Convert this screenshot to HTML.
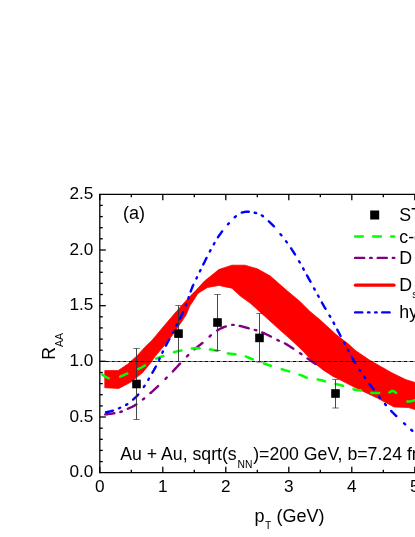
<!DOCTYPE html>
<html><head><meta charset="utf-8">
<style>
html,body{margin:0;padding:0;background:#fff;}
body{width:415px;height:537px;overflow:hidden;}
svg{display:block;}
text{font-family:"Liberation Sans",sans-serif;fill:#000;}
</style></head><body>
<svg width="415" height="537" viewBox="0 0 415 537">
<rect width="415" height="537" fill="#fff"/>
<path d="M104.8,370.6 L118.2,370.6 L127.5,364.3 L136.9,355.9 L144.9,347.2 L152.3,340.0 L163.8,326.2 L176.1,311.8 L187.7,298.8 L195.8,290.5 L204.5,281.1 L218.9,269.5 L231.9,265.2 L244.9,265.2 L257.3,268.8 L270.3,276.0 L286.2,290.0 L300.0,301.5 L310.0,311.5 L320.2,320.0 L336.1,334.5 L349.1,344.6 L355.0,350.2 L369.5,360.1 L391.1,372.4 L405.6,379.6 L415.0,382.5 L418.0,383.4 L418.0,410.5 L408.4,407.5 L394.0,406.9 L376.7,397.7 L355.0,387.5 L339.0,379.2 L333.2,376.4 L323.1,369.9 L313.0,361.9 L302.0,350.0 L291.9,340.6 L278.9,329.0 L264.5,316.0 L250.0,302.9 L240.6,296.2 L231.9,288.2 L218.9,285.4 L207.3,287.5 L197.9,293.4 L193.5,300.5 L190.0,305.5 L186.2,314.7 L177.6,327.7 L168.9,340.0 L155.0,356.6 L149.9,363.8 L142.7,372.5 L131.1,381.9 L118.8,388.4 L104.8,387.7 Z" fill="#ff0000" stroke="#ff0000" stroke-width="0.8" stroke-linejoin="round"/>
<path d="M105.2,414.4 L105.3,414.4 L105.6,414.4 L105.9,414.4 L106.3,414.3 L106.6,414.3 L107.0,414.2 L107.5,414.2 L107.9,414.1 L108.4,414.0 L108.8,414.0 L109.3,413.9 L109.8,413.9 L110.3,413.8 L110.7,413.7 L111.2,413.7 L111.7,413.6 L112.1,413.5 L112.6,413.5 L113.0,413.4 L113.4,413.4 L113.8,413.3 L114.2,413.3 L114.3,413.2 M120.3,412.0 L120.4,411.9 L120.6,411.9 L120.8,411.8 L121.0,411.8 L121.2,411.7 L121.3,411.7 L121.5,411.6 L121.7,411.5 L121.8,411.5 M127.8,408.8 L128.2,408.6 L128.7,408.4 L129.1,408.2 L129.6,408.0 L130.1,407.7 L130.6,407.5 L131.1,407.3 L131.6,407.0 L132.1,406.8 L132.5,406.6 L133.0,406.3 L133.5,406.1 L133.9,405.8 L134.4,405.6 L134.8,405.4 L135.2,405.1 L135.6,404.9 L136.0,404.7 L136.4,404.4 L136.4,404.4 M142.9,399.5 L143.1,399.3 L143.4,399.1 L143.7,398.9 L143.9,398.7 L144.2,398.5 L144.2,398.5 M150.4,393.1 L150.7,392.9 L151.1,392.6 L151.4,392.2 L151.8,391.9 L152.2,391.6 L152.5,391.3 L152.9,390.9 L153.3,390.6 L153.7,390.2 L154.0,389.9 L154.4,389.5 L154.8,389.2 L155.2,388.8 L155.6,388.5 L155.9,388.1 L156.3,387.8 L156.7,387.4 L157.1,387.1 L157.4,386.7 L157.8,386.4 L158.1,386.1 M165.5,378.8 L165.7,378.6 L166.0,378.3 L166.3,378.0 L166.6,377.7 L166.7,377.6 M172.9,371.4 L173.1,371.1 L173.5,370.7 L173.9,370.3 L174.3,369.8 L174.7,369.4 L175.2,368.9 L175.6,368.4 L176.1,367.9 L176.5,367.5 L177.0,367.0 L177.4,366.5 L177.8,366.0 L178.3,365.6 L178.7,365.1 L179.1,364.6 L179.5,364.2 L179.9,363.8 L180.0,363.7 M187.0,356.3 L187.2,356.1 L187.5,355.8 L187.8,355.5 L188.0,355.3 L188.3,355.0 L188.3,355.0 M194.5,349.3 L194.6,349.2 L195.0,348.9 L195.4,348.5 L195.8,348.2 L196.3,347.9 L196.7,347.5 L197.1,347.2 L197.6,346.8 L198.0,346.4 L198.5,346.1 L198.9,345.7 L199.4,345.3 L199.9,345.0 L200.3,344.6 L200.8,344.2 L201.3,343.8 L201.8,343.5 L202.2,343.1 L202.5,342.9 M209.6,336.5 L209.9,336.3 L210.3,335.9 L210.8,335.4 L210.9,335.3 M217.1,330.5 L217.2,330.4 L217.6,330.2 L218.1,329.9 L218.5,329.7 L218.9,329.5 L219.3,329.2 L219.7,329.0 L220.1,328.8 L220.5,328.6 L220.9,328.4 L221.3,328.3 L221.7,328.1 L222.1,327.9 L222.5,327.7 L222.9,327.6 L223.3,327.4 L223.6,327.2 L224.0,327.1 L224.4,326.9 L224.7,326.8 L225.0,326.7 L225.4,326.5 L225.7,326.4 L225.8,326.4 M232.2,324.9 L232.3,324.9 L232.6,324.9 L232.9,324.9 L233.2,324.9 L233.5,324.9 L233.7,324.9 L233.7,324.9 M239.7,325.9 L239.9,325.9 L240.1,326.0 L240.3,326.0 L240.6,326.1 L240.8,326.1 L241.0,326.2 L241.2,326.3 L241.5,326.3 L241.8,326.4 L242.0,326.5 L242.3,326.6 L242.6,326.6 L243.0,326.7 L243.3,326.8 L243.7,326.9 L244.1,327.1 L244.5,327.2 L245.0,327.3 L245.5,327.4 L246.0,327.6 L246.6,327.7 L247.1,327.9 L247.7,328.0 L248.4,328.2 L248.7,328.3 M254.8,329.9 L255.4,330.1 L256.1,330.3 L256.3,330.3 M262.3,332.5 L262.6,332.6 L263.3,332.9 L264.1,333.2 L264.8,333.6 L265.6,333.9 L266.3,334.3 L267.1,334.7 L267.9,335.1 L268.6,335.4 L269.4,335.8 L270.2,336.2 L270.9,336.6 L271.0,336.6 M277.4,340.0 L277.6,340.0 L278.1,340.3 L278.6,340.5 L278.9,340.7 M284.9,343.4 L285.2,343.5 L285.6,343.7 L286.0,344.0 L286.5,344.3 L287.0,344.6 L287.5,344.9 L288.0,345.2 L288.5,345.6 L289.1,345.9 L289.6,346.3 L290.2,346.6 L290.8,347.0 L291.4,347.4 L292.0,347.8 L292.6,348.2 L293.2,348.6 L293.3,348.7 M300.0,353.2 L300.6,353.6 L301.2,354.0 L301.4,354.2 M307.5,358.5 L307.9,358.7 L308.5,359.1 L309.1,359.5 L309.6,359.9 L310.2,360.3 L310.8,360.7 L311.3,361.1 L311.8,361.5 L312.4,361.8 L312.9,362.2 L313.3,362.5 L313.8,362.8 L314.2,363.1 L314.7,363.4 L315.1,363.7 L315.5,363.9 L315.8,364.1 " fill="none" stroke="#800080" stroke-width="2.4" stroke-linecap="round"/>
<path d="M102.2,374.5 L102.5,374.7 L102.8,374.9 L103.2,375.2 L103.5,375.4 L103.9,375.7 L104.3,375.9 L104.7,376.2 L105.1,376.5 L105.5,376.7 L105.9,377.0 L106.3,377.2 L106.7,377.4 L107.1,377.6 L107.5,377.8 L107.9,378.0 L108.3,378.2 L108.7,378.3 L108.8,378.3 M120.2,376.6 L120.2,376.6 L120.6,376.5 L121.0,376.3 L121.4,376.2 L121.7,376.0 L122.1,375.8 L122.5,375.7 L122.9,375.5 L123.3,375.3 L123.7,375.1 L124.1,374.9 L124.5,374.7 L124.9,374.6 L125.3,374.4 L125.7,374.2 L126.1,374.0 L126.5,373.8 L126.9,373.6 L127.2,373.5 M138.1,369.0 L138.2,369.0 L138.7,368.8 L139.1,368.6 L139.6,368.4 L140.0,368.2 L140.4,368.0 L140.8,367.8 L141.2,367.6 L141.5,367.5 L141.8,367.3 L142.1,367.2 L142.3,367.0 L142.6,366.9 L142.8,366.7 L143.0,366.6 L143.3,366.5 L143.5,366.3 L143.6,366.2 L143.8,366.1 L144.0,366.0 L144.2,365.8 L144.4,365.7 L144.6,365.6 L144.8,365.4 L144.9,365.4 M156.1,358.6 L156.3,358.5 L156.7,358.3 L157.0,358.1 L157.4,358.0 L157.7,357.9 L158.1,357.7 L158.4,357.6 L158.8,357.5 L159.1,357.4 L159.5,357.2 L159.8,357.1 L160.2,357.0 L160.5,356.9 L160.9,356.8 L161.2,356.7 L161.6,356.6 L161.9,356.4 L162.3,356.3 L162.6,356.2 L163.0,356.1 L163.3,356.0 M174.0,352.2 L174.3,352.1 L174.7,352.0 L175.1,351.9 L175.4,351.8 L175.7,351.7 L176.1,351.6 L176.4,351.5 L176.7,351.5 L177.1,351.4 L177.4,351.3 L177.8,351.2 L178.1,351.1 L178.4,351.1 L178.8,351.0 L179.1,350.9 L179.5,350.8 L179.9,350.8 L180.2,350.7 L180.6,350.6 L181.0,350.5 L181.4,350.5 L181.5,350.5 M191.9,348.5 L192.2,348.4 L192.7,348.4 L193.3,348.3 L193.9,348.3 L194.4,348.2 L195.0,348.2 L195.6,348.2 L196.2,348.2 L196.7,348.2 L197.3,348.2 L198.0,348.2 L198.6,348.2 L199.2,348.3 L199.6,348.3 M209.9,349.4 L210.3,349.4 L210.7,349.5 L211.2,349.6 L211.7,349.6 L212.1,349.7 L212.5,349.8 L212.9,349.9 L213.4,349.9 L213.8,350.0 L214.2,350.1 L214.6,350.2 L215.0,350.3 L215.3,350.4 L215.7,350.4 L216.1,350.5 L216.5,350.6 L216.8,350.7 L217.2,350.8 L217.5,350.8 M227.8,353.4 L228.2,353.5 L228.6,353.5 L229.0,353.6 L229.4,353.6 L229.8,353.7 L230.2,353.7 L230.6,353.8 L231.1,353.8 L231.5,353.9 L231.9,353.9 L232.3,354.0 L232.7,354.0 L233.1,354.1 L233.6,354.1 L234.0,354.2 L234.4,354.2 L234.8,354.3 L235.2,354.3 L235.5,354.4 M245.8,356.5 L245.9,356.5 L246.2,356.6 L246.5,356.8 L246.8,356.9 L247.1,357.0 L247.5,357.1 L247.8,357.3 L248.1,357.4 L248.4,357.5 L248.7,357.6 L249.0,357.8 L249.3,357.9 L249.7,358.1 L250.0,358.2 L250.3,358.3 L250.6,358.5 L251.0,358.6 L251.3,358.7 L251.7,358.9 L252.0,359.0 L252.4,359.1 L252.7,359.3 L252.9,359.4 M263.8,363.3 L263.9,363.4 L264.2,363.5 L264.5,363.6 L264.9,363.7 L265.2,363.9 L265.6,364.0 L265.9,364.1 L266.3,364.3 L266.8,364.4 L267.2,364.6 L267.7,364.7 L268.2,364.9 L268.8,365.1 L269.4,365.3 L270.1,365.5 L270.8,365.7 L271.0,365.8 M281.7,369.2 L281.9,369.2 L283.2,369.6 L284.6,370.1 L286.0,370.5 L287.4,370.9 L288.8,371.3 L289.1,371.4 M299.6,374.8 L300.0,374.9 L300.7,375.1 L301.3,375.4 L301.9,375.6 L302.4,375.7 L302.8,375.9 L303.2,376.1 L303.5,376.2 L303.8,376.3 L304.1,376.5 L304.3,376.6 L304.5,376.7 L304.6,376.8 L304.8,376.9 L305.0,377.0 L305.1,377.0 L305.3,377.1 L305.4,377.2 L305.6,377.3 L305.8,377.4 L306.0,377.4 L306.2,377.5 L306.5,377.6 L306.8,377.7 M317.6,379.5 L317.9,379.5 L318.4,379.6 L318.8,379.7 L319.2,379.8 L319.6,379.9 L319.9,379.9 L320.3,380.0 L320.6,380.1 L320.9,380.2 L321.3,380.3 L321.6,380.3 L321.8,380.4 L322.1,380.5 L322.4,380.6 L322.7,380.6 L323.0,380.7 L323.3,380.8 L323.6,380.9 L323.9,381.0 L324.2,381.1 L324.6,381.2 L324.9,381.3 L325.1,381.3 M335.5,383.9 L335.9,383.9 L336.5,384.1 L337.2,384.3 L337.8,384.4 L338.4,384.6 L339.1,384.7 L339.7,384.9 L340.3,385.1 L340.9,385.2 L341.5,385.4 L342.1,385.6 L342.7,385.7 L343.0,385.8 M353.5,389.3 L353.7,389.3 L354.1,389.5 L354.6,389.6 L355.0,389.7 L355.4,389.8 L355.8,389.9 L356.1,390.0 L356.5,390.0 L356.8,390.1 L357.1,390.1 L357.3,390.1 L357.6,390.2 L357.9,390.2 L358.1,390.2 L358.3,390.2 L358.6,390.2 L358.8,390.2 L359.0,390.2 L359.2,390.3 L359.4,390.3 L359.7,390.3 L359.9,390.3 L360.1,390.3 L360.4,390.3 L360.6,390.4 L360.9,390.4 L361.1,390.4 M371.4,392.8 L371.7,392.9 L372.1,392.9 L372.5,392.9 L372.9,392.9 L373.3,392.9 L373.7,392.9 L374.1,392.9 L374.5,392.9 L374.9,392.9 L375.3,392.9 L375.7,392.9 L376.1,392.9 L376.5,392.9 L376.9,392.9 L377.3,392.9 L377.7,392.9 L378.1,392.9 L378.5,392.9 L378.8,392.9 L379.1,392.9 M389.4,392.5 L389.6,392.4 L389.8,392.3 L390.0,392.2 L390.1,392.1 L390.3,391.9 L390.5,391.8 L390.6,391.7 L390.8,391.6 L390.9,391.5 L391.1,391.4 L391.2,391.3 L391.4,391.2 L391.6,391.1 L391.7,391.0 L391.9,391.0 L392.1,390.9 L392.2,390.9 L392.4,390.9 L392.6,390.9 L392.8,390.9 L393.0,391.0 L393.2,391.0 L393.4,391.1 L393.5,391.2 L393.7,391.2 L393.9,391.3 L394.1,391.4 L394.3,391.5 L394.5,391.7 L394.6,391.8 L394.8,391.9 L395.0,392.1 L395.2,392.2 L395.4,392.4 L395.6,392.5 L395.9,392.7 L396.1,392.9 M407.3,401.6 L407.4,401.6 L407.8,401.6 L408.2,401.6 L408.6,401.6 L409.0,401.6 L409.4,401.5 L409.8,401.5 L410.2,401.4 L410.6,401.4 L411.0,401.3 L411.4,401.2 L411.8,401.1 L412.2,401.0 L412.5,400.9 L412.9,400.8 L413.2,400.7 L413.6,400.6 L413.9,400.5 L414.2,400.4 L414.5,400.4 L414.7,400.3 L414.9,400.3 " fill="none" stroke="#00ff00" stroke-width="2.5" stroke-linecap="round"/>
<path d="M106.0,412.3 L106.2,412.3 L106.5,412.2 L106.9,412.1 L107.3,412.0 L107.7,411.9 L108.2,411.8 L108.6,411.7 L109.1,411.6 L109.5,411.5 L110.0,411.4 L110.4,411.3 L110.9,411.2 L111.4,411.0 L111.9,410.9 L112.3,410.8 L112.8,410.6 L113.0,410.6 M119.0,408.3 L119.2,408.2 L119.6,408.0 L120.0,407.8 L120.2,407.7 M126.1,404.9 L126.2,404.8 L126.4,404.8 L126.6,404.7 L126.7,404.6 L126.9,404.5 L127.0,404.4 L127.2,404.3 L127.3,404.2 M133.1,399.6 L133.5,399.3 L133.8,399.0 L134.2,398.6 L134.6,398.3 L135.0,397.9 L135.4,397.5 L135.8,397.2 L136.2,396.8 L136.5,396.4 L136.9,396.1 L137.3,395.7 L137.6,395.3 L137.9,394.9 L138.2,394.6 M143.8,386.9 L144.0,386.6 L144.3,386.2 L144.6,385.8 L144.6,385.8 M148.3,379.8 L148.4,379.5 L148.7,379.1 L148.9,378.6 L149.0,378.6 M152.4,372.8 L152.6,372.4 L152.9,371.8 L153.3,371.1 L153.6,370.5 L154.0,369.9 L154.3,369.3 L154.7,368.7 L155.0,368.1 L155.3,367.5 L155.6,367.0 L155.9,366.5 M159.0,359.8 L159.2,359.5 L159.4,358.9 L159.6,358.5 M162.3,352.7 L162.4,352.5 L162.6,352.0 L162.9,351.6 L162.9,351.4 M165.9,345.7 L166.0,345.4 L166.3,344.9 L166.5,344.5 L166.8,344.0 L167.0,343.5 L167.3,343.0 L167.6,342.5 L167.8,342.0 L168.1,341.5 L168.4,341.0 L168.7,340.5 L168.9,339.9 L169.2,339.4 L169.3,339.3 M172.8,332.7 L173.1,332.1 L173.5,331.5 L173.5,331.5 M176.5,325.6 L176.7,325.1 L177.1,324.3 L177.1,324.3 M180.0,318.6 L180.4,317.8 L180.9,316.9 L181.3,316.1 L181.7,315.2 L182.1,314.3 L182.5,313.5 L182.9,312.6 L183.1,312.1 M185.7,305.6 L185.8,305.4 L186.2,304.4 L186.2,304.3 M188.3,298.5 L188.3,298.5 L188.6,297.5 L188.7,297.1 M190.7,291.5 L190.9,291.1 L191.1,290.2 L191.4,289.5 L191.7,288.7 L192.0,288.0 L192.3,287.3 L192.5,286.7 L192.8,286.1 L193.0,285.6 L193.2,285.1 L193.3,284.8 M196.4,278.5 L196.6,278.1 L196.9,277.6 L197.0,277.3 M199.9,271.4 L200.1,270.9 L200.4,270.3 L200.5,270.1 M203.3,264.4 L203.3,264.4 L203.6,263.8 L203.9,263.2 L204.2,262.6 L204.5,262.1 L204.8,261.5 L205.0,260.9 L205.3,260.4 L205.6,259.8 L205.9,259.2 L206.2,258.7 L206.4,258.1 L206.5,257.9 M209.9,251.4 L209.9,251.4 L210.2,250.8 L210.5,250.3 L210.5,250.2 M213.8,244.3 L213.9,244.0 L214.2,243.5 L214.5,243.0 M218.0,237.3 L218.2,236.8 L218.6,236.3 L219.0,235.8 L219.3,235.2 L219.7,234.7 L220.1,234.2 L220.4,233.7 L220.8,233.2 L221.2,232.6 L221.6,232.1 L222.0,231.6 L222.1,231.4 M228.0,224.3 L228.0,224.3 L228.4,223.8 L228.8,223.4 L228.9,223.3 M234.7,217.2 L234.8,217.2 L235.2,216.8 L235.6,216.4 L235.8,216.3 M241.7,212.6 L241.8,212.6 L242.1,212.5 L242.4,212.4 L242.8,212.3 L243.1,212.2 L243.4,212.2 L243.7,212.1 L244.0,212.1 L244.4,212.0 L244.7,212.0 L245.0,211.9 L245.3,211.9 L245.7,211.8 L246.0,211.8 L246.3,211.8 L246.7,211.7 L247.0,211.7 L247.3,211.7 L247.7,211.7 L248.0,211.7 L248.3,211.7 L248.7,211.7 L248.8,211.7 M254.7,212.8 L255.0,212.8 L255.3,212.9 L255.6,213.0 L256.0,213.0 L256.1,213.1 M261.8,215.4 L262.0,215.5 L262.4,215.7 L262.7,216.0 L263.0,216.2 M268.8,221.3 L268.8,221.3 L269.2,221.7 L269.7,222.1 L270.1,222.5 L270.4,222.9 L270.8,223.2 L271.2,223.6 L271.6,224.0 L272.0,224.4 L272.3,224.7 L272.7,225.1 L273.0,225.4 L273.3,225.7 L273.6,226.0 L273.9,226.3 L273.9,226.3 M280.5,234.2 L281.0,234.8 L281.4,235.3 M286.1,241.3 L286.3,241.6 L286.9,242.4 M291.1,248.3 L291.2,248.4 L291.9,249.6 L292.7,250.8 L293.5,252.0 L294.3,253.3 L295.0,254.4 M299.1,261.3 L299.8,262.5 M303.1,268.4 L303.2,268.4 L303.8,269.7 M307.0,275.4 L307.8,276.9 L309.0,279.1 L310.2,281.2 L310.5,281.7 M314.1,288.4 L314.7,289.6 M318.0,295.5 L318.7,296.8 M321.9,302.5 L322.1,303.0 L322.8,304.2 L323.5,305.4 L324.1,306.5 L324.7,307.5 L325.3,308.4 L325.5,308.8 M329.5,315.5 L329.6,315.6 L329.9,316.2 L330.2,316.7 M333.6,322.6 L333.7,322.8 L334.0,323.5 L334.2,323.9 M337.3,329.6 L337.4,330.0 L337.7,330.6 L338.1,331.2 L338.4,331.8 L338.7,332.4 L339.0,333.0 L339.3,333.6 L339.6,334.2 L339.9,334.7 L340.2,335.3 L340.5,335.9 L340.6,336.0 M344.0,342.6 L344.0,342.6 L344.3,343.1 L344.5,343.6 L344.7,343.8 M347.8,349.7 L347.9,349.9 L348.2,350.5 L348.5,351.0 M351.6,356.7 L351.8,357.2 L352.1,357.8 L352.5,358.4 L352.8,359.0 L353.2,359.6 L353.5,360.2 L353.9,360.8 L354.2,361.4 L354.6,362.0 L354.9,362.6 L355.1,363.0 M359.4,369.7 L359.5,369.9 L359.9,370.4 L360.2,370.8 M364.3,376.8 L364.5,377.1 L364.9,377.7 L365.1,378.0 M369.4,383.8 L369.5,384.0 L369.9,384.5 L370.3,385.1 L370.8,385.7 L371.2,386.3 L371.6,386.8 L372.1,387.4 L372.5,388.0 L372.9,388.6 L373.4,389.1 L373.7,389.6 M379.2,396.8 L379.2,396.8 L379.7,397.4 L380.1,397.9 M385.0,403.9 L385.0,404.0 L385.4,404.5 L385.8,405.0 L385.9,405.0 M391.2,410.9 L391.6,411.3 L392.0,411.8 L392.5,412.3 L392.9,412.7 L393.4,413.2 L394.0,413.8 L394.5,414.3 L395.1,414.9 L395.7,415.5 L396.3,416.0 M404.1,423.3 L404.7,423.9 L405.1,424.2 M411.2,429.8 L411.4,430.0 L411.9,430.4 L412.3,430.8 " fill="none" stroke="#0000ff" stroke-width="2.4" stroke-linecap="round"/>
<line x1="99.8" y1="361.5" x2="415" y2="361.5" stroke="#000" stroke-width="1" stroke-dasharray="3.3,0.45,0.6,0.45,0.6,0.45"/>
<line x1="136.5" y1="348.5" x2="136.5" y2="419.5" stroke="#333" stroke-width="0.9"/><line x1="133.3" y1="348.5" x2="139.7" y2="348.5" stroke="#333" stroke-width="0.7"/><line x1="133.3" y1="419.5" x2="139.7" y2="419.5" stroke="#333" stroke-width="0.7"/><rect x="132.2" y="379.7" width="8.6" height="8.6" fill="#000"/><line x1="178.5" y1="305.5" x2="178.5" y2="361.5" stroke="#333" stroke-width="0.9"/><line x1="175.3" y1="305.5" x2="181.7" y2="305.5" stroke="#333" stroke-width="0.7"/><line x1="175.3" y1="361.5" x2="181.7" y2="361.5" stroke="#333" stroke-width="0.7"/><rect x="174.2" y="329.3" width="8.6" height="8.6" fill="#000"/><line x1="217.5" y1="294.5" x2="217.5" y2="350.5" stroke="#333" stroke-width="0.9"/><line x1="214.3" y1="294.5" x2="220.7" y2="294.5" stroke="#333" stroke-width="0.7"/><line x1="214.3" y1="350.5" x2="220.7" y2="350.5" stroke="#333" stroke-width="0.7"/><rect x="213.2" y="318.2" width="8.6" height="8.6" fill="#000"/><line x1="259.5" y1="313.5" x2="259.5" y2="362" stroke="#333" stroke-width="0.9"/><line x1="256.3" y1="313.5" x2="262.7" y2="313.5" stroke="#333" stroke-width="0.7"/><line x1="256.3" y1="362" x2="262.7" y2="362" stroke="#333" stroke-width="0.7"/><rect x="255.2" y="333.59999999999997" width="8.6" height="8.6" fill="#000"/><line x1="335.5" y1="379.5" x2="335.5" y2="408" stroke="#333" stroke-width="0.9"/><line x1="332.3" y1="379.5" x2="338.7" y2="379.5" stroke="#333" stroke-width="0.7"/><line x1="332.3" y1="408" x2="338.7" y2="408" stroke="#333" stroke-width="0.7"/><rect x="331.2" y="389.2" width="8.6" height="8.6" fill="#000"/>
<g stroke="#000" stroke-width="1.3">
<line x1="99.8" y1="193.65" x2="99.8" y2="473.34999999999997"/>
<line x1="99.8" y1="194.3" x2="415" y2="194.3"/>
<line x1="99.8" y1="472.7" x2="415" y2="472.7"/>
<line x1="99.8" y1="461.6" x2="102.8" y2="461.6"/><line x1="99.8" y1="450.4" x2="102.8" y2="450.4"/><line x1="99.8" y1="439.3" x2="102.8" y2="439.3"/><line x1="99.8" y1="428.2" x2="102.8" y2="428.2"/><line x1="99.8" y1="417.0" x2="105.8" y2="417.0"/><line x1="99.8" y1="405.9" x2="102.8" y2="405.9"/><line x1="99.8" y1="394.7" x2="102.8" y2="394.7"/><line x1="99.8" y1="383.6" x2="102.8" y2="383.6"/><line x1="99.8" y1="372.5" x2="102.8" y2="372.5"/><line x1="99.8" y1="361.3" x2="105.8" y2="361.3"/><line x1="99.8" y1="350.2" x2="102.8" y2="350.2"/><line x1="99.8" y1="339.1" x2="102.8" y2="339.1"/><line x1="99.8" y1="327.9" x2="102.8" y2="327.9"/><line x1="99.8" y1="316.8" x2="102.8" y2="316.8"/><line x1="99.8" y1="305.7" x2="105.8" y2="305.7"/><line x1="99.8" y1="294.5" x2="102.8" y2="294.5"/><line x1="99.8" y1="283.4" x2="102.8" y2="283.4"/><line x1="99.8" y1="272.3" x2="102.8" y2="272.3"/><line x1="99.8" y1="261.1" x2="102.8" y2="261.1"/><line x1="99.8" y1="250.0" x2="105.8" y2="250.0"/><line x1="99.8" y1="238.8" x2="102.8" y2="238.8"/><line x1="99.8" y1="227.7" x2="102.8" y2="227.7"/><line x1="99.8" y1="216.6" x2="102.8" y2="216.6"/><line x1="99.8" y1="205.4" x2="102.8" y2="205.4"/><line x1="99.8" y1="472.7" x2="99.8" y2="466.7"/><line x1="99.8" y1="194.3" x2="99.8" y2="200.3"/><line x1="131.3" y1="472.7" x2="131.3" y2="469.7"/><line x1="131.3" y1="194.3" x2="131.3" y2="197.3"/><line x1="162.8" y1="472.7" x2="162.8" y2="466.7"/><line x1="162.8" y1="194.3" x2="162.8" y2="200.3"/><line x1="194.3" y1="472.7" x2="194.3" y2="469.7"/><line x1="194.3" y1="194.3" x2="194.3" y2="197.3"/><line x1="225.8" y1="472.7" x2="225.8" y2="466.7"/><line x1="225.8" y1="194.3" x2="225.8" y2="200.3"/><line x1="257.3" y1="472.7" x2="257.3" y2="469.7"/><line x1="257.3" y1="194.3" x2="257.3" y2="197.3"/><line x1="288.8" y1="472.7" x2="288.8" y2="466.7"/><line x1="288.8" y1="194.3" x2="288.8" y2="200.3"/><line x1="320.3" y1="472.7" x2="320.3" y2="469.7"/><line x1="320.3" y1="194.3" x2="320.3" y2="197.3"/><line x1="351.8" y1="472.7" x2="351.8" y2="466.7"/><line x1="351.8" y1="194.3" x2="351.8" y2="200.3"/><line x1="383.3" y1="472.7" x2="383.3" y2="469.7"/><line x1="383.3" y1="194.3" x2="383.3" y2="197.3"/><line x1="414.8" y1="472.7" x2="414.8" y2="466.7"/><line x1="414.8" y1="194.3" x2="414.8" y2="200.3"/><line x1="446.3" y1="472.7" x2="446.3" y2="469.7"/><line x1="446.3" y1="194.3" x2="446.3" y2="197.3"/>
</g>
<g font-size="17.2px" style="filter:grayscale(1)"><text x="93.3" y="477.4" text-anchor="end">0.0</text><text x="93.3" y="421.7" text-anchor="end">0.5</text><text x="93.3" y="366.0" text-anchor="end">1.0</text><text x="93.3" y="310.4" text-anchor="end">1.5</text><text x="93.3" y="254.7" text-anchor="end">2.0</text><text x="93.3" y="199.0" text-anchor="end">2.5</text><text x="99.8" y="492.2" text-anchor="middle">0</text><text x="162.8" y="492.2" text-anchor="middle">1</text><text x="225.8" y="492.2" text-anchor="middle">2</text><text x="288.8" y="492.2" text-anchor="middle">3</text><text x="351.8" y="492.2" text-anchor="middle">4</text><text x="414.8" y="492.2" text-anchor="middle">5</text>
<text x="122.9" y="218.5" font-size="18px">(a)</text>
<text x="120.2" y="460.3" font-size="17.7px">Au + Au, sqrt(s<tspan font-size="10.3px" dy="7.2" dx="0.8">NN</tspan><tspan dy="-7.2" dx="0.8">)=200 GeV, b=7.24 fm</tspan></text>
<text x="254.6" y="522.2" font-size="18px">p<tspan font-size="10.3px" dy="7.2" dx="0.5">T</tspan><tspan dy="-7.2"> (GeV)</tspan></text>
<text transform="translate(55.2,359.8) rotate(-90)" font-size="17.6px">R<tspan font-size="10.6px" dy="7.4">AA</tspan></text>
<g font-size="17.8px"><text x="399.3" y="221">STAR</text>
<text x="399.3" y="242.8">c-quark</text>
<text x="399.3" y="264">D</text>
<text x="399.3" y="291">D<tspan font-size="10.3px" dy="7.2">s</tspan></text>
<text x="399.3" y="318.3">hydro</text></g>
</g>
<rect x="370.2" y="210.5" width="9" height="9" fill="#000"/>
<path d="M355.1,236.4h7.7M373.2,236.4h7.7M391.2,236.4h3" stroke="#00ff00" stroke-width="2.5" stroke-linecap="round"/>
<path d="M355.1,257.9h9.1M370.2,257.9h1.5M377.7,257.9h9.1M392.8,257.9h1.5" stroke="#800080" stroke-width="2.4" stroke-linecap="round"/>
<line x1="355.5" y1="285.2" x2="394" y2="285.2" stroke="#ff0000" stroke-width="3.3" stroke-linecap="round"/>
<path d="M355.1,312.4h7.2M368.05,312.4h1.4M375.2,312.4h1.4M382.2,312.4h7.4" stroke="#0000ff" stroke-width="2.4" stroke-linecap="round"/>
</svg>
</body></html>
